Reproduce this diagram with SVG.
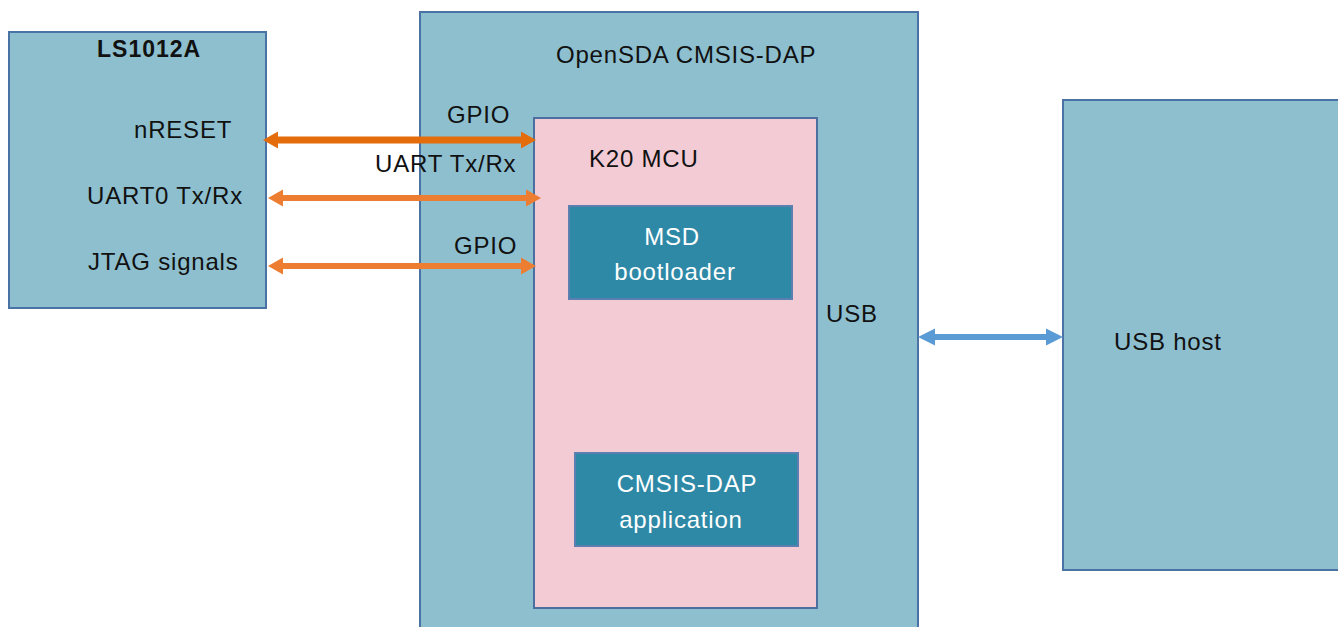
<svg xmlns="http://www.w3.org/2000/svg" width="1338" height="627" viewBox="0 0 1338 627">
<style>
.box{fill:#8dbfcf;stroke:#4a72a5;stroke-width:2}
.mcu{fill:#f3cbd5;stroke:#4a6fa0;stroke-width:2}
.blk{fill:#2e89a6;stroke:#5a7fb0;stroke-width:2}
text{font-family:"Liberation Sans",Arial,sans-serif;font-size:24px;letter-spacing:0.8px;fill:#111}
.w{fill:#fff}
.b{font-weight:bold;font-size:23px;letter-spacing:1px}
.or{stroke:#ed7d31;stroke-width:6;fill:none}
.or2{stroke:#e46c0a;stroke-width:7;fill:none}
.bl{stroke:#5b9bd5;stroke-width:6;fill:none}
</style>
<defs>
<marker id="ho" markerUnits="userSpaceOnUse" markerWidth="16" markerHeight="18" refX="0" refY="9" orient="auto-start-reverse"><path d="M0,0.5 L15,9 L0,17.5 z" fill="#ed7d31"/></marker>
<marker id="ho2" markerUnits="userSpaceOnUse" markerWidth="16" markerHeight="18" refX="0" refY="9" orient="auto-start-reverse"><path d="M0,0.5 L15,9 L0,17.5 z" fill="#e46c0a"/></marker>
<marker id="hb" markerUnits="userSpaceOnUse" markerWidth="18" markerHeight="20" refX="0" refY="10" orient="auto-start-reverse"><path d="M0,1.5 L17,10 L0,18.5 z" fill="#5b9bd5"/></marker>
</defs>
<rect width="1338" height="627" fill="#fff"/>
<g id="ls1012a">
<rect class="box" x="9" y="32" width="257" height="276"/>
<text class="b" x="97" y="57">LS1012A</text>
<text x="134" y="138">nRESET</text>
<text x="87" y="204">UART0 Tx/Rx</text>
<text x="88" y="270">JTAG signals</text>
</g>
<g id="opensda">
<rect class="box" x="420" y="12" width="498" height="625"/>
<text x="556" y="63">OpenSDA CMSIS-DAP</text>
<text x="826" y="322">USB</text>
</g>
<g id="k20">
<rect class="mcu" x="534" y="118" width="283" height="490"/>
<text x="589" y="167">K20 MCU</text>
</g>
<g id="msd">
<rect class="blk" x="569" y="206" width="223" height="93"/>
<text class="w" x="672" y="245" text-anchor="middle">MSD</text>
<text class="w" x="675" y="280" text-anchor="middle">bootloader</text>
</g>
<g id="cmsisapp">
<rect class="blk" x="575" y="453" width="223" height="93"/>
<text class="w" x="687" y="492" text-anchor="middle">CMSIS-DAP</text>
<text class="w" x="681" y="528" text-anchor="middle">application</text>
</g>
<g id="usbhost">
<rect class="box" x="1063" y="100" width="285" height="470"/>
<text x="1114" y="350" fill="#222">USB host</text>
</g>
<g id="connectors">
<line class="or2" x1="278" y1="140" x2="521" y2="140" marker-start="url(#ho2)" marker-end="url(#ho2)"/>
<line class="or" x1="283" y1="198" x2="526" y2="198" marker-start="url(#ho)" marker-end="url(#ho)"/>
<line class="or" x1="283" y1="266" x2="521" y2="266" marker-start="url(#ho)" marker-end="url(#ho)"/>
<line class="bl" x1="935" y1="337" x2="1046" y2="337" marker-start="url(#hb)" marker-end="url(#hb)"/>
<text x="447" y="123">GPIO</text>
<text x="375" y="172">UART Tx/Rx</text>
<text x="454" y="254">GPIO</text>
</g>
</svg>
